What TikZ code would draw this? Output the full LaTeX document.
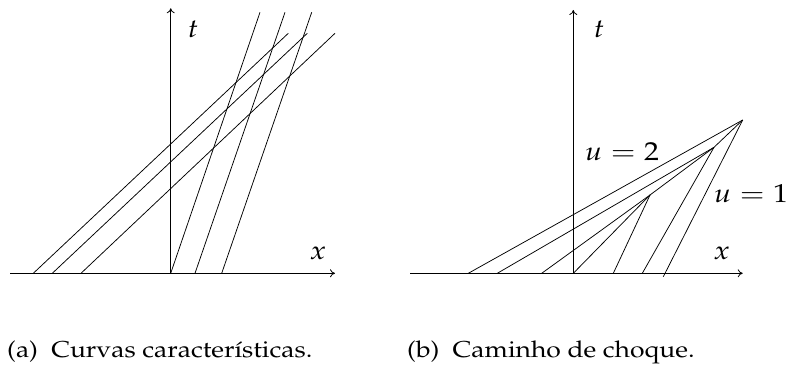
\documentclass[tikz,border=0pt]{standalone}
\usepackage[T1]{fontenc}
\usepackage{mathpazo}
\usetikzlibrary{arrows.meta}
\newcommand{\wide}[1]{\scalebox{1.15}[1]{#1}}
\begin{document}
\begin{tikzpicture}[x=1pt,y=1pt,
  axis/.style={line width=0.8pt,-{To[length=5pt,width=8pt]}},
  charline/.style={line width=0.75pt},
  lbl/.style={inner sep=0pt,font=\fontsize{26}{30}\selectfont},
  captext/.style={inner sep=0pt,anchor=base west,font=\fontsize{23}{27}\selectfont}]
\useasboundingbox (0,0) rectangle (791,365);
% ---------- panel (a)
\coordinate (aO) at (170.7,91.7);
\coordinate (aXs) at (10,91.7);
\coordinate (aXe) at (335,91.7);
\coordinate (aTe) at (170.7,356.7);
\draw[axis] (aXs) -- (aXe);
\draw[axis] (aO) -- (aTe);
\node[lbl] (at) at (193,336) {\wide{$t$}};
\node[lbl] (ax) at (318,112) {\wide{$x$}};
\coordinate (l1a) at (33.3,91.7);  \coordinate (l1b) at (288.3,331.7);
\coordinate (l2a) at (52.3,91.7);  \coordinate (l2b) at (307.3,331.7);
\coordinate (l3a) at (81,91.7);    \coordinate (l3b) at (335,331.7);
\coordinate (s1b) at (260,352.7);
\coordinate (s2a) at (195,91.7);   \coordinate (s2b) at (285,352.7);
\coordinate (s3a) at (221.7,91.7); \coordinate (s3b) at (311.7,352.7);
\draw[charline] (l1a) -- (l1b);
\draw[charline] (l2a) -- (l2b);
\draw[charline] (l3a) -- (l3b);
\draw[charline] (aO) -- (s1b);
\draw[charline] (s2a) -- (s2b);
\draw[charline] (s3a) -- (s3b);
\node[captext] (capa) at (7,7.3) {\wide{(a)\ \ Curvas caracter\'{\i}sticas.}};
% ---------- panel (b)
\coordinate (bO) at (573.3,91.7);
\coordinate (bXs) at (410,91.7);
\coordinate (bXe) at (742.7,91.7);
\coordinate (bTe) at (573.3,355);
\draw[axis] (bXs) -- (bXe);
\draw[axis] (bO) -- (bTe);
\node[lbl] (bt) at (599,336) {\wide{$t$}};
\node[lbl] (bx) at (721.7,112) {\wide{$x$}};
\coordinate (A) at (742.7,245);
\coordinate (B) at (714,217.7);
\coordinate (C) at (650,170);
\coordinate (p1) at (468.3,91.7);
\coordinate (p2) at (497.3,91.7);
\coordinate (p3) at (541.7,91.7);
\coordinate (p5) at (613.3,91.7);
\coordinate (p6) at (642.3,91.7);
\coordinate (p7) at (663.3,88.3);
\draw[charline] (p1) -- (A);
\draw[charline] (p2) -- (B);
\draw[charline] (p3) -- (C);
\draw[charline] (bO) -- (C);
\draw[charline] (p5) -- (C);
\draw[charline] (p6) -- (B);
\draw[charline] (p7) -- (A);
\draw[charline] (C) -- (B) -- (A);
\node[lbl] (u2) at (622,213.3) {\wide{$u=2$}};
\node[lbl] (u1) at (751,171) {\wide{$u=1$}};
\node[captext] (capb) at (407,7.3) {\wide{(b)\ \ Caminho de choque.}};
\end{tikzpicture}
\end{document}
